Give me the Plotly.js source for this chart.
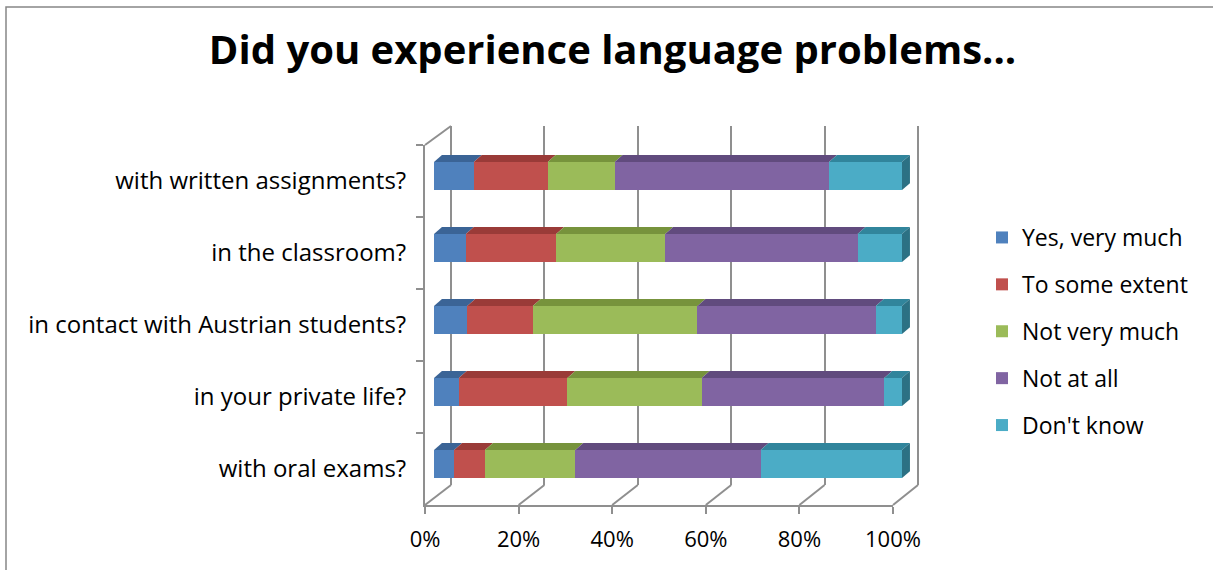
<!DOCTYPE html>
<html>
<head>
<meta charset="utf-8">
<script src="https://cdn.plot.ly/plotly-3.0.1.min.js"></script>
<style>html,body{margin:0;padding:0;background:#fff;}#chart{width:1213px;height:570px;}</style>
</head>
<body>
<div id="chart"></div>
<script>
// ---- data (top to bottom) ----
const categories = [
  "with written assignments?",
  "in the classroom?",
  "in contact with Austrian students?",
  "in your private life?",
  "with oral exams?"
];
const seriesNames = ["Yes, very much", "To some extent", "Not very much", "Not at all", "Don't know"];
const yesVeryMuch  = [8.5, 6.8, 7.1, 5.3, 4.3];
const toSomeExtent = [15.8, 19.3, 14.0, 23.2, 6.6];
const notVeryMuch  = [14.3, 23.3, 35.2, 28.7, 19.3];
const notAtAll     = [45.8, 41.1, 38.1, 39.0, 39.6];
const dontKnow     = [15.6, 9.5, 5.6, 3.8, 30.2];
const tickValues = [0, 20, 40, 60, 80, 100];
const tickLabels = ["0%", "20%", "40%", "60%", "80%", "100%"];

// ---- styles ----
const W = 1213, H = 570;
const faceColors = ["#4F81BD", "#C0504D", "#9BBB59", "#8064A2", "#4BACC6"];
const topColors  = ["#3B6496", "#9A3B38", "#77933C", "#614B7E", "#31859C"];
const sideColor  = "#2C7184";
const gridColor  = "#8F8F8F";
const FONT = "Open Sans, Noto Sans, DejaVu Sans, sans-serif";
const px = v => v / W;
const py = v => 1 - v / H;

const seriesValues = [yesVeryMuch, toSomeExtent, notVeryMuch, notAtAll, dontKnow];

// geometry (pixels)
const backL = 451, backR = 918, backT = 126, backB = 485;
const frontL = 425, frontR = 893, frontT = 145, frontB = 505;
const barL = 434, barPxPerUnit = 4.68, barT = 140, barB = 500;
const barXMax = 104;
const barWidth = 0.39;
const depthX = 1.7;   // in data units
const depthY = 0.095; // in category units

const traces = [];
seriesValues.forEach((vals, s) => {
  traces.push({
    type: "bar", orientation: "h",
    name: seriesNames[s], legendgroup: "g" + s,
    y: categories, x: vals,
    xaxis: "x2", yaxis: "y2",
    width: barWidth,
    marker: {color: faceColors[s], line: {width: 0}},
    hoverinfo: "name+x"
  });
});
traces.push({
  type: "scatter", mode: "markers", x: categories.map(() => 0), y: categories,
  xaxis: "x3", yaxis: "y3", marker: {opacity: 0}, showlegend: false, hoverinfo: "skip"
});
traces.push({
  type: "scatter", mode: "markers", x: [0, 100], y: [0, 1],
  xaxis: "x", yaxis: "y", marker: {opacity: 0}, showlegend: false, hoverinfo: "skip"
});

const shapes = [];
categories.forEach((c, i) => {
  let cum = 0;
  const top = i - barWidth / 2;
  seriesValues.forEach((vals, s) => {
    const x0 = cum, x1 = cum + vals[i];
    cum = x1;
    shapes.push({
      type: "path", xref: "x2", yref: "y2", layer: "above",
      path: `M${x0},${top} L${x1},${top} L${x1 + depthX},${top - depthY} L${x0 + depthX},${top - depthY} Z`,
      fillcolor: topColors[s], line: {width: 0}
    });
  });
  const bot = i + barWidth / 2;
  shapes.push({
    type: "path", xref: "x2", yref: "y2", layer: "above",
    path: `M${cum},${top} L${cum},${bot} L${cum + depthX},${bot - depthY} L${cum + depthX},${top - depthY} Z`,
    fillcolor: sideColor, line: {width: 0}
  });
});

const backX = v => backL + (backR - backL) * v / 100;
const frontX = v => frontL + (frontR - frontL) * v / 100;
tickValues.forEach(v => {
  shapes.push({type: "line", xref: "paper", yref: "paper",
    x0: px(backX(v)), y0: py(backB), x1: px(frontX(v)), y1: py(frontB),
    line: {color: gridColor, width: 2}, layer: "below"});
});
shapes.push({type: "line", xref: "paper", yref: "paper",
  x0: px(frontL), y0: py(frontT), x1: px(backL), y1: py(backT),
  line: {color: gridColor, width: 2}, layer: "below"});
shapes.push({type: "rect", xref: "paper", yref: "paper",
  x0: px(6), y0: -0.2, x1: 1.2, y1: py(7),
  line: {color: "#868686", width: 1.5}, fillcolor: "rgba(0,0,0,0)", layer: "below"});

const gridPxPerUnit = (backR - backL) / 100;
const layout = {
  width: W, height: H,
  margin: {l: 0, r: 0, t: 0, b: 0},
  paper_bgcolor: "#ffffff",
  plot_bgcolor: "rgba(0,0,0,0)",
  barmode: "stack",
  showlegend: true,
  font: {family: FONT, color: "#000", size: 22},
  title: {
    text: "<b>Did you experience language problems...</b>",
    font: {family: FONT, size: 40, color: "#000"},
    x: 0.505, xanchor: "center", y: py(50), yanchor: "middle", yref: "container"
  },
  xaxis: {
    domain: [px(backL - 2 * gridPxPerUnit), px(backR + 2 * gridPxPerUnit)],
    range: [-2, 102], tickvals: tickValues, showticklabels: false, ticks: "",
    showgrid: true, gridcolor: gridColor, gridwidth: 2, zeroline: false, showline: false,
    anchor: "y", fixedrange: true
  },
  yaxis: {
    domain: [py(backB), py(backT)], range: [0, 1], showgrid: false, zeroline: false,
    showticklabels: false, showline: false, anchor: "x", fixedrange: true
  },
  xaxis2: {
    domain: [px(barL), px(barL + barPxPerUnit * barXMax)], range: [0, barXMax],
    showgrid: false, zeroline: false, showline: false, showticklabels: false, ticks: "",
    anchor: "y2", fixedrange: true
  },
  yaxis2: {
    domain: [py(barB), py(barT)], type: "category", categoryarray: categories,
    range: [categories.length - 0.5, -0.5],
    showgrid: false, zeroline: false, showline: false, showticklabels: false, ticks: "",
    anchor: "x2", fixedrange: true
  },
  xaxis3: {
    domain: [px(frontL), px(frontR)], range: [0, 100],
    tickvals: tickValues, ticktext: tickLabels,
    ticks: "outside", ticklen: 7, tickwidth: 2, tickcolor: gridColor,
    showline: true, linecolor: gridColor, linewidth: 2,
    showgrid: false, zeroline: false, ticklabelstandoff: 7,
    tickfont: {family: FONT, size: 22, color: "#000"},
    anchor: "y3", fixedrange: true
  },
  yaxis3: {
    domain: [py(frontB), py(frontT)], type: "category", categoryarray: categories,
    range: [categories.length - 0.5, -0.5],
    ticks: "outside", tickson: "boundaries", ticklen: 7, tickwidth: 2, tickcolor: gridColor,
    showline: true, linecolor: gridColor, linewidth: 2,
    showgrid: false, zeroline: false, ticklabelstandoff: 12,
    tickfont: {family: FONT, size: 24, color: "#000"},
    anchor: "x3", fixedrange: true
  },
  legend: {
    x: px(982), xanchor: "left", y: py(216), yanchor: "top",
    traceorder: "grouped", tracegroupgap: 14,
    font: {family: FONT, size: 23, color: "#000"},
    bgcolor: "rgba(0,0,0,0)", itemwidth: 30
  },
  shapes: shapes
};

Plotly.newPlot("chart", traces, layout, {displayModeBar: false, staticPlot: true});
</script>
</body>
</html>
